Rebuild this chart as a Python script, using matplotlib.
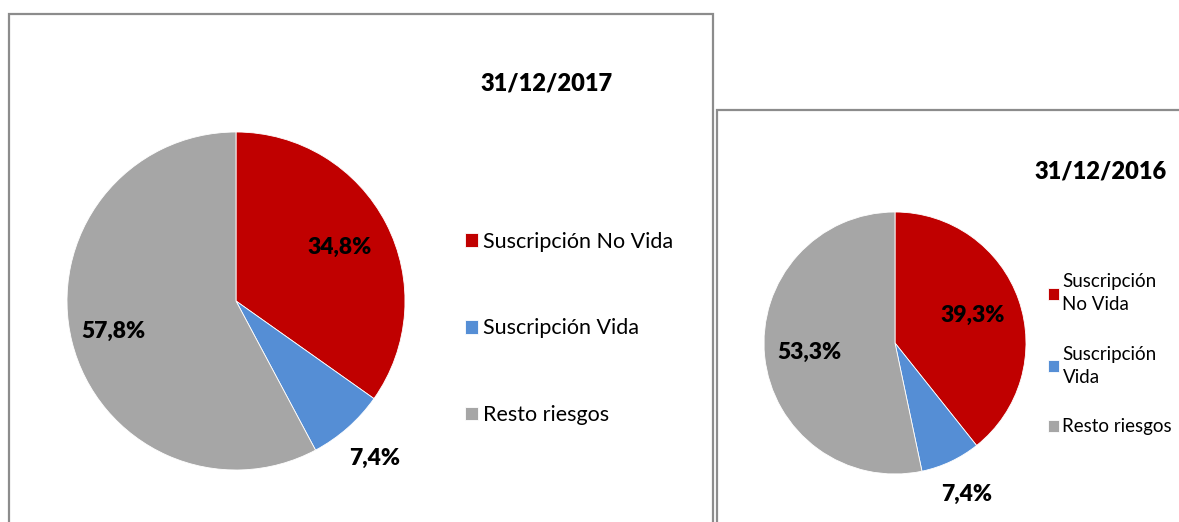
import numpy as np
import matplotlib.pyplot as plt
from matplotlib.patches import Rectangle

plt.rcParams['font.family'] = ['Lato', 'DejaVu Sans']

categories = ['Suscripción No Vida', 'Suscripción Vida', 'Resto riesgos']
legend_2016 = ['Suscripción\nNo Vida', 'Suscripción\nVida', 'Resto riesgos']
values_2017 = [34.8, 7.4, 57.8]
values_2016 = [39.3, 7.4, 53.3]
colors = ['#C00000', '#558ED5', '#A6A6A6']
title_2017 = '31/12/2017'
title_2016 = '31/12/2016'

W, H = 1179, 522
fig = plt.figure(figsize=(W / 100, H / 100), dpi=100)


def px_box(x, y, w, h):
    # pixel box (top-left origin) -> figure fraction
    return [x / W, (H - y - h) / H, w / W, h / H]


# panel frames
for (x, y, w, h) in [(9, 14, 704, 520), (717, 110, 480, 430)]:
    fig.patches.append(Rectangle((x / W, (H - y - h) / H), w / W, h / H,
                                 transform=fig.transFigure, fill=False,
                                 edgecolor='#8c8c8c', linewidth=1.6))


def draw_pie(box, vals, dists, fs):
    ax = fig.add_axes(box)
    wedges, _ = ax.pie(vals, colors=colors, startangle=90, counterclock=False,
                       wedgeprops=dict(linewidth=0.6, edgecolor='white'))
    for w, v, d in zip(wedges, vals, dists):
        a = np.deg2rad((w.theta1 + w.theta2) / 2)
        ax.text(d * np.cos(a), d * np.sin(a), f'{v:.1f}%'.replace('.', ','),
                ha='center', va='center', fontsize=fs, fontweight='heavy')
    ax.set_xlim(-1, 1)
    ax.set_ylim(-1, 1)
    ax.set_aspect('equal')
    ax.axis('off')
    return wedges


w17 = draw_pie(px_box(67, 132, 338, 338), values_2017, [0.69, 1.24, 0.75], 16.5)
w16 = draw_pie(px_box(764, 212, 262, 262), values_2016, [0.63, 1.28, 0.66], 16.5)

fig.text(547 / W, 1 - 84 / H, title_2017, ha='center', va='center',
         fontsize=17, fontweight='heavy')
fig.text(1101 / W, 1 - 172 / H, title_2016, ha='center', va='center',
         fontsize=17, fontweight='heavy')

fig.legend(w17, categories, loc='upper left',
           bbox_to_anchor=(456 / W, 1 - 223 / H), frameon=False,
           fontsize=15.5, handlelength=0.6, handleheight=0.6,
           handletextpad=0.25, labelspacing=3.1, borderaxespad=0)
fig.legend(w16, legend_2016, loc='upper left',
           bbox_to_anchor=(1040 / W, 1 - 266 / H), frameon=False,
           fontsize=13.5, handlelength=0.6, handleheight=0.6,
           handletextpad=0.2, labelspacing=1.75, borderaxespad=0)
for t in fig.legends[1].get_texts():
    t.set_linespacing(1.4)

fig.savefig('out.png', dpi=100, facecolor='white')
